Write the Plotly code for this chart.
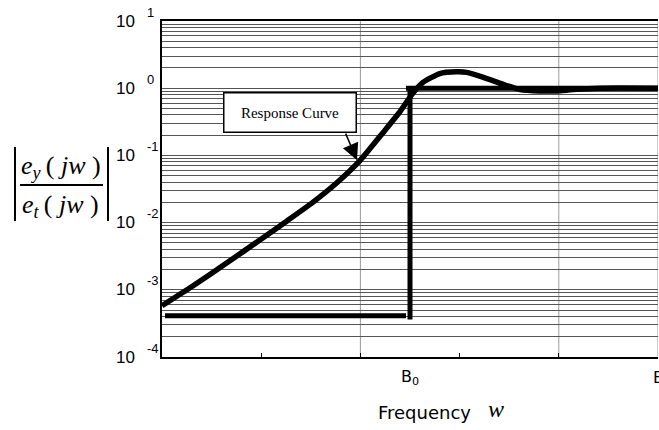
import plotly.graph_objects as go
import numpy as np

W, H = 659, 430
ML, MR, MT, MB = 162, 1, 21, 73

# Measured closed-loop response |e_y/e_t| versus frequency (B0 = 2.5)
freq = [0.0, 0.31, 0.655, 0.99, 1.26, 1.52, 1.76, 2.0, 2.23, 2.40, 2.52, 2.63,
        2.80, 2.97, 3.07, 3.24, 3.44, 3.61, 3.81, 3.98, 4.14, 4.42, 5.0]
gain = [5.8e-4, 1.14e-3, 2.52e-3, 5.55e-3, 1.06e-2, 2.0e-2, 3.88e-2, 8.5e-2,
        0.22, 0.45, 0.81, 1.22, 1.65, 1.75, 1.72, 1.45, 1.14, 0.955, 0.91,
        0.91, 0.955, 1.0, 1.0]

# Ideal boundary: stop band, edge at B0, pass band
stop_x = [0.03, 2.46]
stop_y = [4.1e-4, 4.1e-4]
edge_x = [2.5, 2.5]
edge_y = [3.6e-4, 1.0]
pass_x = [2.46, 5.0]
pass_y = [1.0, 1.0]

decades = [-4, -3, -2, -1, 0, 1]
x_tick_pos = [1, 2, 3, 4]
x_grid = [2, 4, 5]
x_labels = ["B<sub>0</sub>", "B"]
x_label_pos = [2.5, 5.0]

grid_vals = [k * 10.0 ** d for d in range(-4, 1) for k in range(1, 10)] + [10.0]

PW = W - ML - MR
PH = H - MT - MB


def px_x(px):
    return (px - ML) / PW


def px_y(py):
    return (H - MB - py) / PH


fig = go.Figure()

fig.add_trace(go.Scatter(x=freq, y=gain, mode="lines",
                         line=dict(color="black", width=5.5, shape="spline", smoothing=0.5),
                         hoverinfo="skip", showlegend=False))
for xs, ys in [(stop_x, stop_y), (edge_x, edge_y), (pass_x, pass_y)]:
    fig.add_trace(go.Scatter(x=xs, y=ys, mode="lines",
                             line=dict(color="black", width=5),
                             hoverinfo="skip", showlegend=False))

shapes = []
for gx in x_grid:
    shapes.append(dict(type="line", xref="x", yref="paper", x0=gx, x1=gx, y0=0, y1=1,
                       line=dict(color="#9a9a9a", width=1), layer="below"))

# |fraction| axis title
shapes.append(dict(type="line", xref="paper", yref="paper",
                   x0=px_x(20), x1=px_x(103), y0=px_y(185), y1=px_y(185),
                   line=dict(color="black", width=2)))
for bx in (15, 108):
    shapes.append(dict(type="line", xref="paper", yref="paper",
                       x0=px_x(bx), x1=px_x(bx), y0=px_y(147), y1=px_y(221),
                       line=dict(color="black", width=2)))

ann = []
serif = "Liberation Serif, Times New Roman, serif"
sans = "DejaVu Sans, sans-serif"
tickfont = "Liberation Sans Narrow, Arial Narrow, Liberation Sans, Arial, sans-serif"

ann.append(dict(xref="paper", yref="paper", x=px_x(61), y=px_y(167),
                text="<i>e<sub>y</sub></i>\u2009(\u00a0<i>jw</i>\u00a0)", showarrow=False,
                font=dict(family=serif, size=26, color="black"),
                xanchor="center", yanchor="middle"))
ann.append(dict(xref="paper", yref="paper", x=px_x(60), y=px_y(206),
                text="<i>e<sub>t</sub></i>\u2009(\u00a0<i>jw</i>\u00a0)", showarrow=False,
                font=dict(family=serif, size=26, color="black"),
                xanchor="center", yanchor="middle"))

# decade labels
for d in decades:
    ann.append(dict(xref="paper", yref="y", x=px_x(137), y=d, text="10",
                    showarrow=False, xanchor="right", yanchor="middle",
                    font=dict(family=tickfont, size=17, color="black")))
    ann.append(dict(xref="paper", yref="y", x=px_x(145), y=d, text=str(d),
                    showarrow=False, xanchor="left", yanchor="middle", yshift=9,
                    font=dict(family=tickfont, size=13, color="black")))

# frequency labels
for xp, lab in zip(x_label_pos, x_labels):
    ann.append(dict(xref="x", yref="paper", x=xp, y=px_y(377), text=lab,
                    showarrow=False, xanchor="center", yanchor="middle",
                    font=dict(family=sans, size=16, color="black")))
ann.append(dict(xref="paper", yref="paper", x=px_x(376), y=px_y(412),
                text="Frequency", showarrow=False, xanchor="left", yanchor="middle",
                font=dict(family=sans, size=18, color="black")))
ann.append(dict(xref="paper", yref="paper", x=px_x(486), y=px_y(409),
                text="<i>w</i>", showarrow=False, xanchor="left", yanchor="middle",
                font=dict(family=serif, size=24, color="black")))

# callout
ann.append(dict(xref="paper", yref="paper", x=px_x(289.5), y=px_y(112),
                text="Response Curve", showarrow=False, xanchor="center", yanchor="middle",
                font=dict(family=serif, size=15, color="black"),
                bgcolor="white", bordercolor="black", borderwidth=1.5, borderpad=1,
                width=129, height=36))
ann.append(dict(xref="x", yref="y", x=1.966, y=float(np.log10(0.085)), text="",
                showarrow=True, ax=-12, ay=-28, arrowhead=2, arrowsize=2.2,
                arrowwidth=1.5, arrowcolor="black", standoff=0))

fig.update_layout(
    width=W, height=H, autosize=False,
    margin=dict(l=ML, r=MR, t=MT, b=MB),
    paper_bgcolor="white", plot_bgcolor="white",
    shapes=shapes, annotations=ann,
    xaxis=dict(range=[0, 5], tickvals=x_tick_pos, showticklabels=False,
               ticks="inside", ticklen=4, tickcolor="black", showgrid=False,
               zeroline=False, showline=True, linecolor="black", linewidth=1.5,
               mirror=True),
    yaxis=dict(type="log", range=[-4, 1], tickvals=grid_vals, showticklabels=False,
               ticks="", showgrid=True, gridcolor="#555555", gridwidth=1,
               zeroline=False, showline=True, linecolor="black", linewidth=1.5),
)

fig.write_html("out.html")
